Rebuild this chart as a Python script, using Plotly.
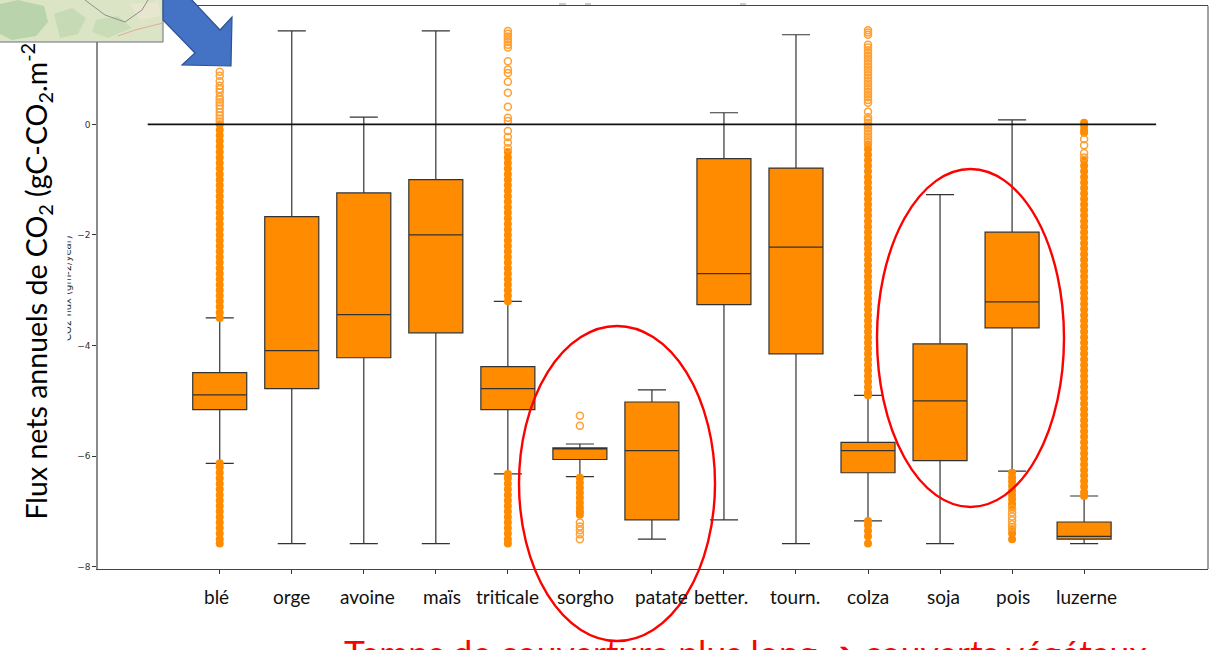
import plotly.graph_objects as go

categories = ["blé", "orge", "avoine", "maïs", "triticale", "sorgho", "patate", "better.", "tourn.", "colza", "soja", "pois", "luzerne"]
positions = [1, 2, 3, 4, 5, 6, 7, 8, 9, 10, 11, 12, 13]
label_shift = [-3, 0, 4, 6, 0, 6, 10, -3, -1, 0, 3, 1, 2]
q3 = [-4.49, -1.67, -1.24, -1.00, -4.38, -5.85, -5.02, -0.62, -0.79, -5.75, -3.97, -1.95, -7.19]
median = [-4.89, -4.09, -3.44, -2.00, -4.78, -5.87, -5.90, -2.70, -2.22, -5.90, -5.00, -3.21, -7.45]
q1 = [-5.16, -4.78, -4.22, -3.77, -5.16, -6.06, -7.15, -3.26, -4.15, -6.30, -6.08, -3.68, -7.50]
whisker_hi = [-3.50, 1.69, 0.13, 1.69, -3.20, -5.78, -4.80, 0.21, 1.62, -4.90, -1.27, 0.08, -6.72]
whisker_lo = [-6.13, -7.58, -7.58, -7.58, -6.32, -6.37, -7.50, -7.15, -7.58, -7.17, -7.58, -6.27, -7.58]

# isolated flier points (drawn as open circles)
open_ble = [0.95, 0.88, 0.78, 0.7, 0.64, 0.58, 0.5, 0.45, 0.4, 0.34, 0.28, 0.22, 0.16, 0.1, 0.05]
open_triticale = [1.69, 1.64, 1.59, 1.54, 1.49, 1.44, 1.39, 1.14, 0.99, 0.93, 0.77, 0.57, 0.32, 0.12, 0.06, -0.12, -0.23, -0.33, -0.43]
open_sorgho = [-5.27, -5.45, -7.2, -7.27, -7.34, -7.41, -7.5]
open_colza = [1.7, 1.66, 1.62, 1.44, 1.39, 1.34, 1.29, 1.24, 1.19, 1.14, 1.09, 1.04, 0.99, 0.94, 0.89, 0.84, 0.79, 0.74, 0.69, 0.64, 0.59, 0.54, 0.49, 0.44, 0.39, 0.23, 0.13, 0.08, 0.03, -0.02, -0.07, -0.12, -0.17, -0.22, -0.27, -0.32]
open_pois = [-6.95, -7.02, -7.09, -7.16, -7.23, -7.28]
open_luzerne = [-0.27, -0.38, -0.52, -0.6]

# fliers packed so tightly that they merge into a solid band
band_ble = [0.0, -0.1, -0.2, -0.3, -0.4, -0.5, -0.6, -0.7, -0.8, -0.9, -1.0, -1.1, -1.2, -1.3, -1.4, -1.5, -1.6, -1.7, -1.8, -1.9, -2.0, -2.1, -2.2, -2.3, -2.4, -2.5, -2.6, -2.7, -2.8, -2.9, -3.0, -3.1, -3.2, -3.3, -3.4, -3.5, -6.13, -6.2, -6.3, -6.4, -6.5, -6.6, -6.7, -6.8, -6.9, -7.0, -7.1, -7.2, -7.3, -7.4, -7.5, -7.58]
band_triticale = [-0.5, -0.6, -0.7, -0.8, -0.9, -1.0, -1.1, -1.2, -1.3, -1.4, -1.5, -1.6, -1.7, -1.8, -1.9, -2.0, -2.1, -2.2, -2.3, -2.4, -2.5, -2.6, -2.7, -2.8, -2.9, -3.0, -3.1, -3.2, -6.32, -6.4, -6.5, -6.6, -6.7, -6.8, -6.9, -7.0, -7.1, -7.2, -7.3, -7.4, -7.5, -7.58]
band_sorgho = [-6.39, -6.48, -6.57, -6.66, -6.75, -6.84, -6.93, -7.0, -7.06]
band_colza = [-0.37, -0.45, -0.55, -0.65, -0.75, -0.85, -0.95, -1.05, -1.15, -1.25, -1.35, -1.45, -1.55, -1.65, -1.75, -1.85, -1.95, -2.05, -2.15, -2.25, -2.35, -2.45, -2.55, -2.65, -2.75, -2.85, -2.95, -3.05, -3.15, -3.25, -3.35, -3.45, -3.55, -3.65, -3.75, -3.85, -3.95, -4.05, -4.15, -4.25, -4.35, -4.45, -4.55, -4.65, -4.75, -4.85, -4.9, -7.17, -7.25, -7.35, -7.45, -7.58]
band_pois = [-6.3, -6.38, -6.46, -6.54, -6.62, -6.7, -6.78, -6.86, -6.92, -7.32, -7.4, -7.5]
band_luzerne = [0.03, -0.03, -0.1, -0.15, -0.65, -0.75, -0.85, -0.95, -1.05, -1.15, -1.25, -1.35, -1.45, -1.55, -1.65, -1.75, -1.85, -1.95, -2.05, -2.15, -2.25, -2.35, -2.45, -2.55, -2.65, -2.75, -2.85, -2.95, -3.05, -3.15, -3.25, -3.35, -3.45, -3.55, -3.65, -3.75, -3.85, -3.95, -4.05, -4.15, -4.25, -4.35, -4.45, -4.55, -4.65, -4.75, -4.85, -4.95, -5.05, -5.15, -5.25, -5.35, -5.45, -5.55, -5.65, -5.75, -5.85, -5.95, -6.05, -6.15, -6.25, -6.35, -6.45, -6.55, -6.65, -6.72]
open_fliers = {1: open_ble, 5: open_triticale, 6: open_sorgho, 10: open_colza, 12: open_pois, 13: open_luzerne}
band_fliers = {1: band_ble, 5: band_triticale, 6: band_sorgho, 10: band_colza, 12: band_pois, 13: band_luzerne}

zero_x = [0, 14]
zero_y = [0, 0]
y_ticks = [0, -2, -4, -6, -8]
y_tick_labels = ["0", "−2", "−4", "−6", "−8"]
big_title = "Flux nets annuels de CO<sub>2</sub> (gC-CO<sub>2</sub>.m<sup>-2</sup>"
bottom_text = "Temps de couverture plus long ➔ couverts végétaux"
small_title = "CO2 flux (gm-2/year)"

ORANGE = "#ff8c00"
W, H = 1209, 650
L, R, T, B = 98, 1208, 6, 569

fig = go.Figure()
for i, c in enumerate(categories):
    fig.add_trace(go.Box(
        x=[positions[i]], q1=[q1[i]], median=[median[i]], q3=[q3[i]],
        lowerfence=[whisker_lo[i]], upperfence=[whisker_hi[i]],
        width=0.75, whiskerwidth=0.52, fillcolor=ORANGE, name=c, boxpoints=False,
        line=dict(color="#333333", width=1.2), showlegend=False))
for pos, vals in band_fliers.items():
    fig.add_trace(go.Scatter(
        x=[pos] * len(vals), y=vals, mode="markers", showlegend=False,
        marker=dict(symbol="circle", size=8, color=ORANGE, line=dict(width=0))))
for pos, vals in open_fliers.items():
    fig.add_trace(go.Scatter(
        x=[pos] * len(vals), y=vals, mode="markers", showlegend=False,
        marker=dict(symbol="circle-open", size=7, color="#ffa033", line=dict(width=1.5, color="#ffa033"))))
fig.add_trace(go.Scatter(x=zero_x, y=zero_y, mode="lines", showlegend=False,
                         line=dict(color="#111111", width=1.6)))


def px(x):
    return (x - L) / (R - L)


def py(y):
    return (B - y) / (B - T)


def pix_path(points, close=True):
    return "M " + " L ".join(f"{px(a):.5f},{py(b):.5f}" for a, b in points) + (" Z" if close else "")


paper = dict(xref="paper", yref="paper", layer="above")
shapes = [
    # right spine
    dict(type="line", x0=px(1208), x1=px(1208), y0=py(6), y1=py(569), line=dict(color="#444444", width=1), **paper),
    # red ellipses
    dict(type="circle", x0=px(519), x1=px(715), y0=py(641), y1=py(326), line=dict(color="#ff0000", width=2.4), **paper),
    dict(type="circle", x0=px(877), x1=px(1064), y0=py(507), y1=py(169), line=dict(color="#ff0000", width=2.4), **paper),
    # map inset
    dict(type="rect", x0=px(-2), x1=px(163), y0=py(42), y1=py(-2), fillcolor="#dbe5c6", line=dict(color="#6f6f80", width=1), **paper),
    dict(type="path", path=pix_path([(0, 4), (18, 0), (44, 6), (48, 22), (36, 36), (12, 40), (0, 34)]), fillcolor="#b9d3ac", line=dict(width=0), **paper),
    dict(type="path", path=pix_path([(54, 14), (72, 8), (86, 18), (78, 34), (60, 38)]), fillcolor="#c7dab6", line=dict(width=0), **paper),
    dict(type="path", path=pix_path([(96, 20), (118, 16), (132, 28), (108, 38), (92, 32)]), fillcolor="#c9dcb8", line=dict(width=0), **paper),
    dict(type="path", path=pix_path([(130, 4), (158, 2), (161, 16), (140, 20)]), fillcolor="#e8e6cf", line=dict(width=0), **paper),
    dict(type="path", path=pix_path([(85, 0), (105, 15), (125, 22), (142, 10), (148, 0)], close=False), line=dict(color="#8f8f8f", width=1), **paper),
    dict(type="path", path=pix_path([(118, 36), (135, 30), (163, 23)], close=False), line=dict(color="#e4a79c", width=1), **paper),
    # blue arrow
    dict(type="path", path=pix_path([(190, -2), (220, 30), (232, 17), (231, 66), (182, 65), (195, 53), (163, 20), (163, -2)]),
         fillcolor="#4472c4", line=dict(color="#2f528f", width=1.2), **paper),
    # fragments of text cut at the top of the picture
    dict(type="line", x0=px(559), x1=px(566), y0=py(4), y1=py(4), line=dict(color="#bbbbbb", width=1.5), **paper),
    dict(type="line", x0=px(585), x1=px(591), y0=py(4), y1=py(4), line=dict(color="#bbbbbb", width=1.5), **paper),
    dict(type="line", x0=px(740), x1=px(746), y0=py(4), y1=py(4), line=dict(color="#bbbbbb", width=1.5), **paper),
]

annotations = [
    dict(xref="x", yref="paper", x=positions[i], y=py(597), xshift=label_shift[i], text=c, showarrow=False,
         font=dict(family="Lato, Carlito, sans-serif", size=19, color="#111111"), xanchor="center", yanchor="middle")
    for i, c in enumerate(categories)
]
annotations += [
    dict(xref="paper", yref="paper", x=px(67), y=py(288), text=small_title, textangle=-90, showarrow=False,
         font=dict(family="DejaVu Sans", size=10, color="#333333"), xanchor="center", yanchor="middle"),
    dict(xref="paper", yref="paper", x=px(60), y=py(288), text=" ", showarrow=False, width=12, height=130,
         bgcolor="#ffffff", xanchor="center", yanchor="middle"),
    dict(xref="paper", yref="paper", x=px(36), y=py(522), text=big_title, textangle=-90, showarrow=False,
         font=dict(family="Lato, Carlito, sans-serif", size=28.5, color="#000000"), xanchor="center", yanchor="bottom"),
    dict(xref="paper", yref="paper", x=px(745), y=py(652), text=bottom_text, showarrow=False,
         font=dict(family="Lato, Carlito, sans-serif", size=35.4, color="#ff0000"), xanchor="center", yanchor="middle"),
]

fig.update_layout(
    width=W, height=H, autosize=False, paper_bgcolor="#ffffff", plot_bgcolor="#ffffff",
    margin=dict(l=L, r=W - R, t=T, b=H - B, pad=0), showlegend=False,
    shapes=shapes, annotations=annotations,
    xaxis=dict(range=[-0.69, 14.72], tickmode="array", tickvals=positions, showticklabels=False,
               ticks="outside", ticklen=4, tickcolor="#333333", showgrid=False, zeroline=False,
               showline=True, linecolor="#444444", linewidth=1, mirror=True),
    yaxis=dict(range=[-8.04, 2.14], tickmode="array", tickvals=y_ticks, ticktext=y_tick_labels,
               ticks="outside", ticklen=4, tickcolor="#333333", tickfont=dict(family="DejaVu Sans", size=9, color="#333333"),
               showgrid=False, zeroline=False, showline=True, linecolor="#8a8a8a", linewidth=1.5),
)
fig.write_html("out.html", config={"displayModeBar": False},
               post_script="document.body.style.margin='0';document.documentElement.style.overflow='hidden';")
